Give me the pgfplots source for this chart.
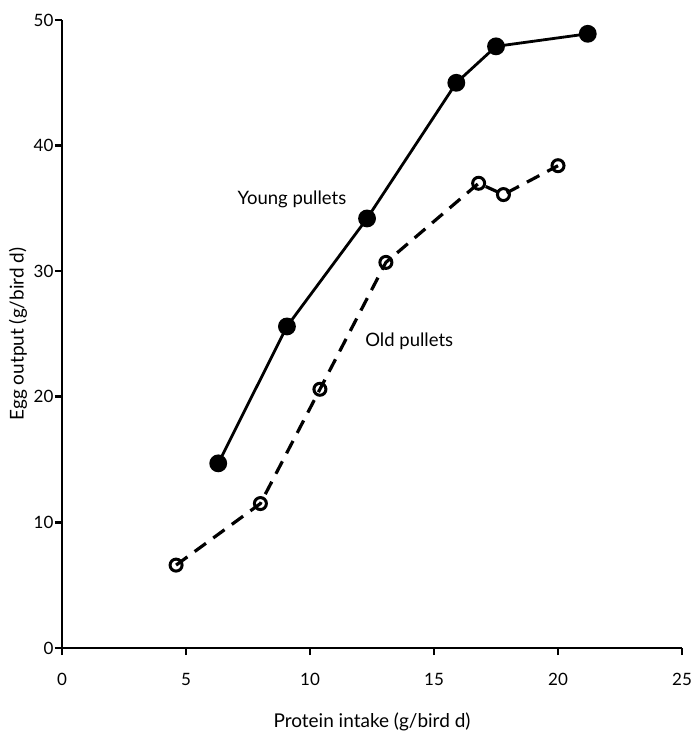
\documentclass[border=0pt]{standalone}
\usepackage{fontspec}
\setmainfont{Lato}
\usepackage{pgfplots}
\pgfplotsset{compat=1.18}
\usetikzlibrary{calc}
\begin{document}
\begin{tikzpicture}
\begin{axis}[name=ax,
  scale only axis, width=620pt, height=628pt,
  xmin=0, xmax=25, ymin=0, ymax=50,
  axis lines*=left, axis line style={line width=2.8pt},
  xtick={0,5,...,25}, ytick={0,10,...,50},
  tick align=outside, major tick length=7pt,
  tick style={line width=2.6pt,black},
  /pgf/number format/assume math mode=true,
  ticklabel style={font=\fontsize{17}{19}\selectfont},
  xticklabel style={yshift=-15pt},
  yticklabel style={xshift=2pt},
  xlabel={Protein intake (g/bird d)},
  ylabel={Egg output (g/bird d)},
  label style={font=\fontsize{19}{21}\selectfont},
  xlabel style={at={(axis description cs:0.5,-0.118)}, anchor=center},
  ylabel style={at={(axis description cs:-0.071,0.5)}, anchor=center},
  clip=false,
]
\addplot[line width=2.8pt, mark=*, mark size=7.5pt, mark options={solid,fill=black}]
 coordinates {(6.3,14.7)(9.07,25.6)(12.3,34.2)(15.9,45.0)(17.5,47.9)(21.2,48.9)};
\addplot[line width=3.2pt, dash pattern=on 14pt off 9pt, mark=o, mark size=6pt, mark options={solid,line width=3pt,fill=white}]
 coordinates {(4.6,6.6)(8.0,11.5)(10.4,20.6)(13.06,30.7)(16.8,37.0)(17.8,36.1)(20.0,38.4)};
\node[font=\fontsize{18.5}{20}\selectfont] at (axis cs:9.27,35.7) {Young pullets};
\node[font=\fontsize{18.5}{20}\selectfont] at (axis cs:14.0,24.4) {Old pullets};
\end{axis}
\pgfresetboundingbox
\path ($(ax.south west)+(-62pt,-87pt)$) rectangle ($(ax.north east)+(11pt,20pt)$);
\end{tikzpicture}
\end{document}
